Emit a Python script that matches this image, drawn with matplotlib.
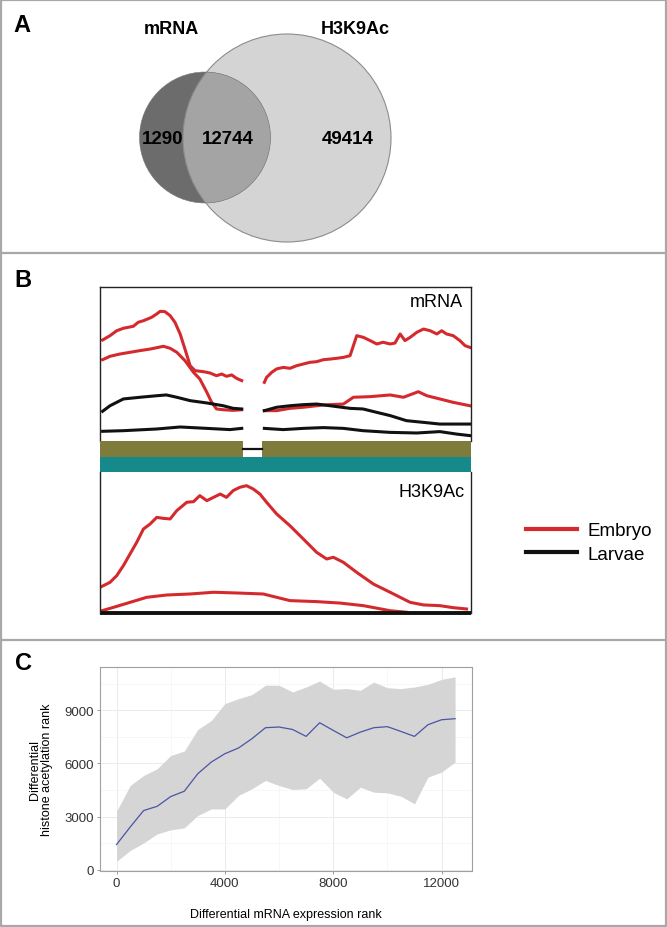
import matplotlib
matplotlib.use('Agg')
import matplotlib.pyplot as plt
from matplotlib.patches import Circle
from matplotlib.lines import Line2D

plt.rcParams['font.family'] = ['Liberation Sans', 'DejaVu Sans']

W, H = 667, 928
DPI = 100

# ---------------- data ----------------
venn_labels = ['mRNA', 'H3K9Ac']
venn_counts = [1290, 12744, 49414]   # mRNA only, shared, H3K9Ac only

# Panel B (position along gene, %, signal in arbitrary units)
emb_m1_lx = [0.7, 2.7, 4.5, 6.3, 9.0, 10.3, 11.7, 13.9, 15.3, 16.2, 17.5, 18.9, 20.2, 21.6, 22.9, 24.3, 25.6, 27.9, 29.6, 31.4, 32.8, 34.1, 35.5, 36.8, 38.2]
emb_m1_ly = [65.6, 68.4, 71.6, 73.2, 74.5, 77.1, 78.1, 80.3, 82.5, 84.2, 84.0, 81.4, 77.1, 69.5, 59.7, 48.9, 45.7, 45.0, 44.2, 42.4, 43.5, 42.0, 42.9, 40.7, 39.2]
emb_m1_rx = [44.3, 44.9, 46.3, 47.6, 49.4, 51.2, 53.0, 54.8, 56.6, 58.4, 60.2, 62.0, 63.8, 65.6, 67.4, 68.3, 69.2, 71.0, 72.8, 74.6, 76.3, 78.2, 79.5, 80.9, 82.2, 83.6, 85.4, 87.2, 89.0, 90.8, 92.1, 93.4, 95.2, 97.0, 98.4, 99.7]
emb_m1_ry = [38.1, 41.3, 44.6, 46.8, 47.8, 47.2, 48.9, 50.0, 51.1, 51.5, 52.8, 53.2, 53.7, 54.3, 55.4, 61.9, 68.4, 67.3, 65.2, 63.0, 64.1, 63.0, 63.6, 69.5, 65.2, 67.3, 70.6, 72.7, 71.6, 69.5, 71.6, 69.5, 68.4, 65.2, 61.9, 60.8]

emb_m2_lx = [0.7, 2.7, 5.4, 8.1, 10.8, 13.5, 17.1, 18.9, 20.7, 22.9, 25.2, 26.9, 28.8, 30.1, 31.4, 33.2, 35.9, 38.2]
emb_m2_ly = [52.8, 55.0, 56.5, 57.6, 58.7, 59.7, 61.5, 60.2, 57.6, 52.2, 44.6, 40.3, 31.6, 25.1, 20.8, 20.3, 19.9, 20.3]
emb_m2_rx = [44.3, 47.6, 51.2, 54.8, 60.2, 65.6, 68.3, 72.8, 78.2, 81.8, 85.8, 88.1, 91.6, 95.2, 99.7]
emb_m2_ry = [19.7, 19.7, 21.2, 21.9, 23.4, 24.0, 28.4, 28.8, 29.9, 28.4, 32.0, 29.4, 27.3, 25.1, 22.9]

lar_m1_lx = [0.7, 2.7, 6.3, 10.8, 15.3, 17.9, 20.7, 24.3, 28.8, 33.2, 35.9, 38.2]
lar_m1_ly = [19.3, 22.9, 27.3, 28.4, 29.4, 29.9, 28.4, 26.2, 24.7, 22.9, 21.2, 20.8]
lar_m1_rx = [44.3, 47.6, 51.2, 54.8, 58.4, 62.0, 67.4, 70.9, 74.6, 78.2, 82.6, 87.2, 91.6, 99.7]
lar_m1_ry = [19.7, 21.9, 22.9, 23.6, 24.0, 22.9, 21.2, 20.8, 18.6, 16.5, 13.2, 12.1, 11.0, 11.0]

lar_m2_lx = [0.7, 6.3, 15.3, 21.6, 28.8, 35.0, 38.2]
lar_m2_ly = [6.3, 6.7, 7.8, 9.1, 8.2, 7.4, 8.2]
lar_m2_rx = [44.3, 49.4, 54.8, 60.2, 65.6, 70.9, 78.2, 85.4, 91.6, 96.1, 99.7]
lar_m2_ry = [8.2, 7.4, 8.2, 8.7, 8.2, 6.7, 5.6, 5.2, 6.1, 4.5, 3.5]

exon_start = [0.0, 43.7]
exon_end = [38.5, 100.0]

emb_h1_x = [0, 2.7, 4.5, 6.3, 8.1, 9.9, 11.7, 13.5, 15.3, 17.1, 18.9, 20.7, 23.4, 25.2, 26.9, 28.8, 30.6, 32.4, 34.1, 35.9, 37.7, 39.5, 41.3, 43.1, 44.9, 47.6, 51.2, 54.8, 58.4, 61.1, 62.9, 65.6, 69.2, 73.7, 78.2, 83.6, 87.2, 91.6, 95.2, 98.8]
emb_h1_y = [17.8, 21.3, 25.9, 32.9, 41.0, 49.1, 58.3, 61.8, 66.4, 65.7, 65.3, 71.1, 76.9, 77.3, 81.5, 78.0, 80.3, 82.6, 80.3, 85.0, 87.3, 88.4, 86.1, 82.6, 76.9, 68.8, 60.6, 51.4, 42.1, 37.5, 38.7, 35.2, 28.2, 20.1, 14.4, 7.4, 5.6, 5.1, 3.7, 2.8]
emb_h2_x = [0, 3.6, 8.1, 12.6, 18.0, 24.3, 30.6, 36.8, 44.0, 47.6, 51.2, 58.4, 64.7, 71.0, 78.2, 82.7]
emb_h2_y = [1.2, 3.9, 7.4, 10.9, 12.5, 13.2, 14.4, 13.9, 13.2, 10.9, 8.6, 7.9, 6.9, 5.1, 1.6, 0.5]
lar_h_x = [0, 100]
lar_h_y = [0, 0]

legend_labels = ['Embryo', 'Larvae']

# Panel C
rank_x = [0, 500, 1000, 1500, 2000, 2500, 3000, 3500, 4000, 4500, 5000, 5500, 6000,
          6500, 7000, 7500, 8000, 8500, 9000, 9500, 10000, 10500, 11000, 11500, 12000, 12500]
acet_mean = [1420, 2400, 3340, 3580, 4130, 4430, 5420, 6080, 6550, 6870, 7400, 8020, 8060,
             7920, 7530, 8300, 7870, 7450, 7770, 8020, 8080, 7810, 7530, 8190, 8470, 8530]
acet_upper = [3300, 4750, 5320, 5700, 6450, 6700, 7920, 8430, 9380, 9660, 9890, 10420, 10420,
              10040, 10320, 10660, 10190, 10230, 10130, 10600, 10280, 10230, 10320, 10470, 10750, 10890]
acet_lower = [470, 1080, 1510, 2020, 2250, 2360, 3060, 3430, 3430, 4190, 4570, 5040, 4750,
              4530, 4570, 5170, 4380, 4000, 4660, 4380, 4340, 4150, 3720, 5230, 5510, 6080]
c_xticks = [0, 4000, 8000, 12000]
c_yticks = [0, 3000, 6000, 9000]

# ---------------- figure ----------------
fig = plt.figure(figsize=(W / DPI, H / DPI), dpi=DPI)
fig.patch.set_facecolor('white')


def pax(x0, y0, x1, y1, **kw):
    return fig.add_axes([x0 / W, 1 - y1 / H, (x1 - x0) / W, (y1 - y0) / H], **kw)


# background / frames / panel A
bg = pax(0, 0, W, H)
bg.set_xlim(0, W)
bg.set_ylim(H, 0)
bg.axis('off')
frame_c = '#a8a8a8'
bg.plot([1, W - 1, W - 1, 1, 1], [1, 1, H - 1, H - 1, 1], color=frame_c, lw=1.6)
bg.plot([1, W - 1], [254, 254], color=frame_c, lw=1.6)
bg.plot([1, W - 1], [641, 641], color=frame_c, lw=1.6)

for lab, (x, y) in zip(['A', 'B', 'C'], [(22, 25), (23, 281), (23, 664)]):
    bg.text(x, y, lab, fontsize=17, fontweight='bold', ha='center', va='center')

narrow = ['Liberation Sans Narrow', 'Liberation Sans', 'DejaVu Sans']
big = Circle((287, 139), 104, fc='#d4d4d4', ec='none', zorder=2)
small = Circle((205, 138.5), 65.5, fc='#6c6c6c', ec='none', zorder=3)
ov = Circle((205, 138.5), 65.5, fc='#a4a4a4', ec='none', zorder=4)
bg.add_patch(big)
bg.add_patch(small)
bg.add_patch(ov)
ov.set_clip_path(big)
bg.add_patch(Circle((287, 139), 104, fill=False, ec='#8c8c8c', lw=0.8, zorder=5))
bg.add_patch(Circle((205, 138.5), 65.5, fill=False, ec='#7a7a7a', lw=0.4, zorder=5))
bg.text(171.5, 29, venn_labels[0], fontsize=13, fontweight='bold', family=narrow,
        ha='center', va='center', zorder=6)
bg.text(355, 29, venn_labels[1], fontsize=13, fontweight='bold', family=narrow,
        ha='center', va='center', zorder=6)
for v, x in zip(venn_counts, [163, 228, 348]):
    bg.text(x, 140, str(v), fontsize=13.5, fontweight='bold', family=narrow,
            ha='center', va='center', zorder=6)

# Panel B
red = '#d42a2e'
blk = '#111111'
lw_c = 2.2

axm = pax(100, 288, 471, 442)
axm.set_xlim(0, 100)
axm.set_ylim(0, 100)
for xs, ys, c in [(emb_m1_lx, emb_m1_ly, red), (emb_m1_rx, emb_m1_ry, red),
                  (emb_m2_lx, emb_m2_ly, red), (emb_m2_rx, emb_m2_ry, red),
                  (lar_m1_lx, lar_m1_ly, blk), (lar_m1_rx, lar_m1_ry, blk),
                  (lar_m2_lx, lar_m2_ly, blk), (lar_m2_rx, lar_m2_ry, blk)]:
    axm.plot(xs, ys, color=c, lw=lw_c, solid_joinstyle='round')
axm.set_xticks([])
axm.set_yticks([])
axm.spines['bottom'].set_visible(False)
for s in ['top', 'left', 'right']:
    axm.spines[s].set_linewidth(1.0)
    axm.spines[s].set_color('#222222')
axm.text(0.978, 0.903, 'mRNA', transform=axm.transAxes, fontsize=13,
         ha='right', va='center')

axb = pax(100, 442, 471, 473)
axb.set_xlim(0, 100)
axb.set_ylim(0, 2)
axb.barh([0.5], [100], left=[0], height=1.0, color='#168a8b', edgecolor='none')
axb.barh([1.5, 1.5], [e - s for s, e in zip(exon_start, exon_end)], left=exon_start,
         height=1.0, color='#7f7b3b', edgecolor='none')
axb.plot([exon_end[0], exon_start[1]], [1.5, 1.5], color=blk, lw=1.6)
axb.axis('off')

axh = pax(100, 473, 471, 614)
axh.set_xlim(0, 100)
axh.set_ylim(0, 97.9)
axh.plot(emb_h1_x, emb_h1_y, color=red, lw=lw_c)
axh.plot(emb_h2_x, emb_h2_y, color=red, lw=lw_c)
axh.plot(lar_h_x, lar_h_y, color=blk, lw=2.8, clip_on=False, solid_capstyle='butt')
axh.set_xticks([])
axh.set_yticks([])
axh.spines['top'].set_visible(False)
axh.spines['bottom'].set_visible(False)
for s in ['left', 'right']:
    axh.spines[s].set_linewidth(1.0)
    axh.spines[s].set_color('#222222')
axh.text(0.984, 0.865, 'H3K9Ac', transform=axh.transAxes, fontsize=13,
         ha='right', va='center')

handles = [Line2D([], [], color=red, lw=3.0), Line2D([], [], color=blk, lw=3.0)]
fig.legend(handles, legend_labels, loc='upper left',
           bbox_to_anchor=(526 / W, 1 - 523 / H), frameon=False, fontsize=13.5,
           handlelength=2.7, handletextpad=0.6, labelspacing=0.35, borderpad=0,
           borderaxespad=0)

# Panel C
axc = pax(99.6, 668, 472, 872)
axc.fill_between(rank_x, acet_lower, acet_upper, color='#d5d5d5', lw=0, zorder=2)
axc.plot(rank_x, acet_mean, color='#4a55a3', lw=0.9, zorder=3)
axc.set_xlim(-625, 13125)
axc.set_ylim(-75, 11450)
axc.set_xticks(c_xticks)
axc.set_yticks(c_yticks)
axc.set_xticks([2000, 6000, 10000], minor=True)
axc.set_yticks([1500, 4500, 7500, 10500], minor=True)
axc.grid(True, which='major', color='#ebebeb', lw=0.7, zorder=0)
axc.grid(True, which='minor', color='#f4f4f4', lw=0.5, zorder=0)
axc.set_axisbelow(True)
axc.tick_params(which='minor', length=0)
axc.tick_params(which='major', length=2.5, width=0.6, color='#888888',
                labelsize=9.5, labelcolor='#333333', pad=1.5)
for s in axc.spines.values():
    s.set_color('#a0a0a0')
    s.set_linewidth(0.8)
axc.set_xlabel('Differential mRNA expression rank', fontsize=9, labelpad=14)
axc.set_ylabel('Differential\nhistone acetylation rank', fontsize=9, labelpad=8,
               linespacing=1.0)

fig.savefig('out.png', dpi=DPI, facecolor='white')
